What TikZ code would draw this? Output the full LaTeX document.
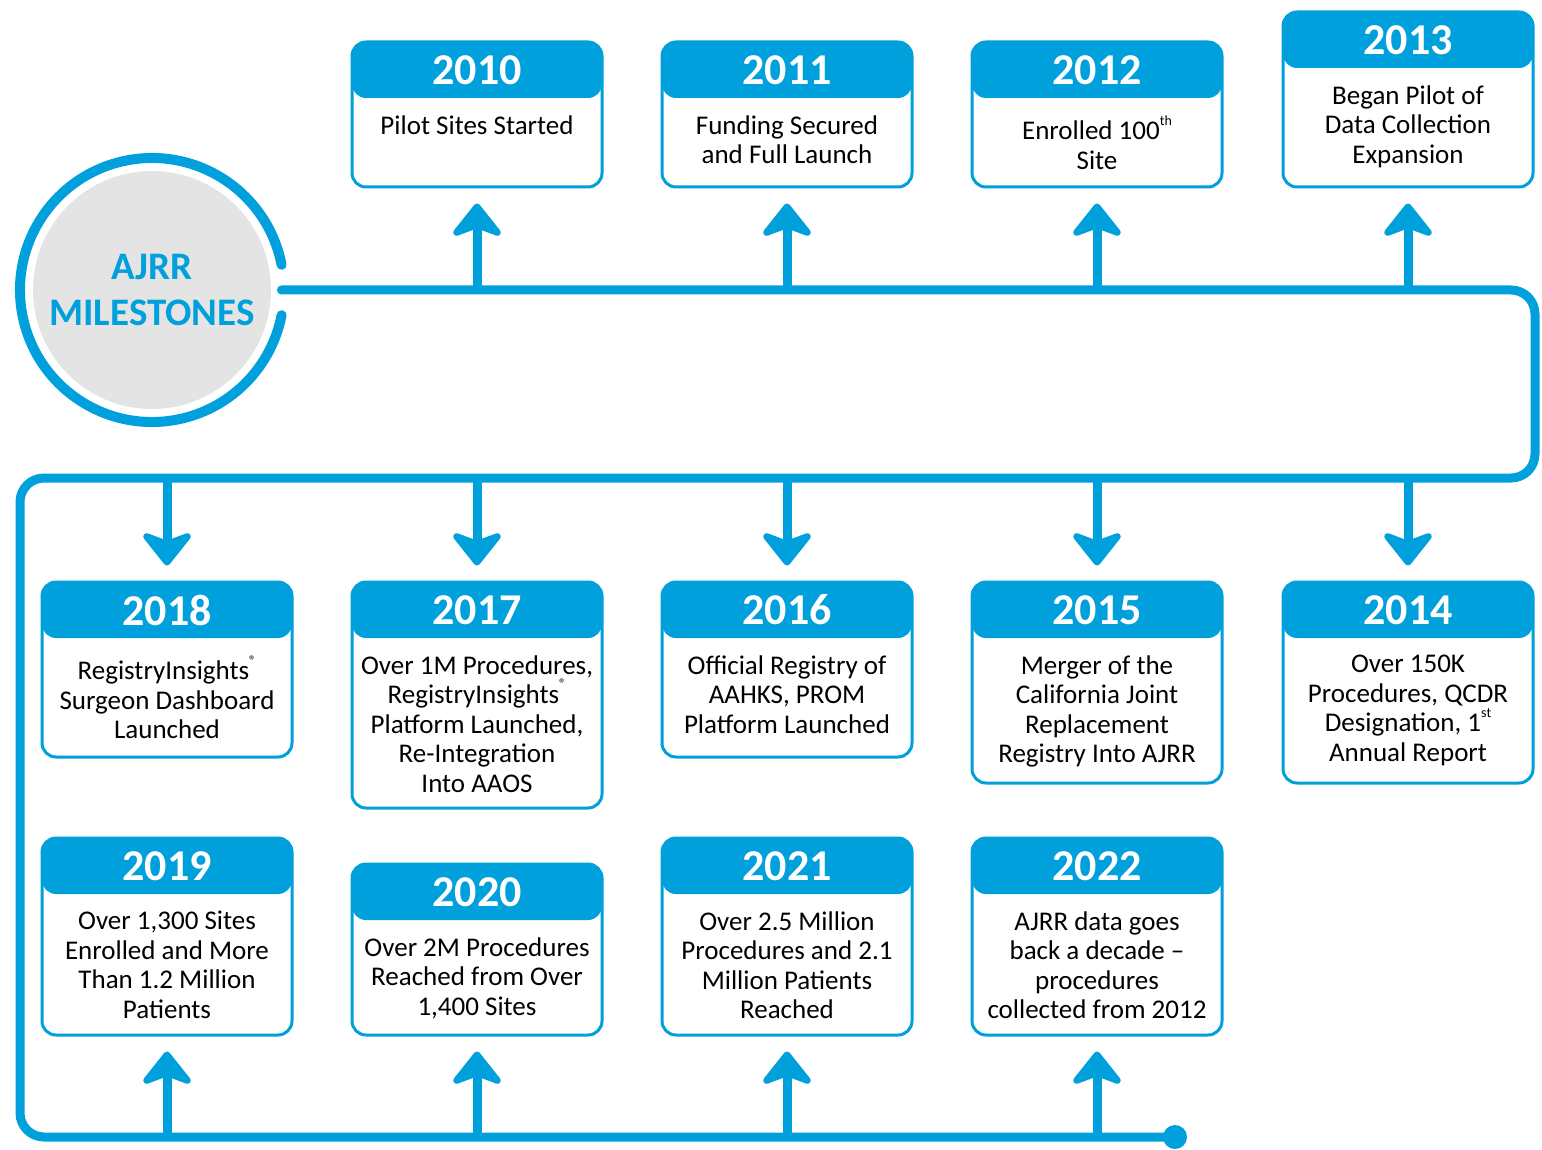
\documentclass[tikz,border=0pt]{standalone}
\usepackage{fontspec}
\setmainfont{Carlito}
\usetikzlibrary{arrows.meta,fit}
\definecolor{ajrrblue}{RGB}{0,160,220}
\definecolor{hubgray}{RGB}{228,228,228}
\tikzset{
  timeline/.style = {draw=ajrrblue, line width=4.5pt, line cap=round, rounded corners=12pt},
  mbox/.style = {
    draw=ajrrblue, line width=1.5pt, fill=white, rounded corners=7pt, inner sep=0pt,
    path picture={\fill[ajrrblue] (path picture bounding box.north west)
      rectangle ([yshift=-28pt]path picture bounding box.north east);}
  },
  yeartext/.style = {text=white, inner sep=0pt, font=\fontsize{22}{22}\selectfont\bfseries},
  bodytext/.style = {align=center, inner sep=0pt, font=\fontsize{13.5}{14.75}\selectfont},
  branch/.style = {draw=ajrrblue, line width=4.5pt,
    -{Stealth[length=19pt,width=30pt,inset=5.5pt,round]}, shorten >=7.5pt}
}
% name, x, top, bottom, year, text
\newcommand{\milestone}[6]{%
  \node[mbox, fit={(#2-125,#3) (#2+125,#4)}] (#1) {};
  \node[yeartext] (#1-year) at (#2,#3+28) {#5};
  \node[bodytext, anchor=north] (#1-text) at (#2,#3+73) {#6};
}
\newcommand{\upmark}[1]{\raisebox{0.55em}{\fontsize{7}{7}\selectfont #1}}

\begin{document}
\begin{tikzpicture}[x=0.5pt,y=-0.5pt]
  \useasboundingbox (0,0) rectangle (1542,1150);
  % hub
  \node[circle, fill=hubgray, minimum size=119pt, inner sep=0pt, align=center,
    text=ajrrblue, font=\fontsize{19.5}{23}\selectfont\bfseries] (hub) at (152,290) {AJRR\\MILESTONES};
  \draw[ajrrblue, line width=5pt, line cap=round]
    (hub.center) ++(11:66pt) arc[start angle=11, end angle=349, radius=66pt];
  % timeline
  \coordinate (start) at ([xshift=5pt]hub.east);
  \coordinate (turn) at (1535,478);
  \node[circle, fill=ajrrblue, minimum size=12pt, inner sep=0pt] (end) at (1175,1137) {};
  \draw[timeline] (start) -- (1535,290) -- (turn) -- (20,478) -- (20,1137) -- (end.center);
  % first row
  \milestone{m2010}{477}{42}{187}{2010}{Pilot Sites Started}
  \milestone{m2011}{787}{42}{187}{2011}{Funding Secured\\and Full Launch}
  \milestone{m2012}{1097}{42}{187}{2012}{Enrolled 100\upmark{th}\\Site}
  \milestone{m2013}{1408}{12}{187}{2013}{Began Pilot of\\Data Collection\\Expansion}
  % second row
  \milestone{m2018}{167}{582}{757}{2018}{RegistryInsights\upmark{®}\\Surgeon Dashboard\\Launched}
  \milestone{m2017}{477}{582}{808}{2017}{Over 1M Procedures,\\RegistryInsights\upmark{®}\\Platform Launched,\\Re-Integration\\Into AAOS}
  \milestone{m2016}{787}{582}{757}{2016}{Official Registry of\\AAHKS, PROM\\Platform Launched}
  \milestone{m2015}{1097}{582}{783}{2015}{Merger of the\\California Joint\\Replacement\\Registry Into AJRR}
  \milestone{m2014}{1408}{582}{783}{2014}{Over 150K\\Procedures, QCDR\\Designation, 1\upmark{st}\\Annual Report}
  % third row
  \milestone{m2019}{167}{838}{1035}{2019}{Over 1,300 Sites\\Enrolled and More\\Than 1.2 Million\\Patients}
  \milestone{m2020}{477}{864}{1035}{2020}{Over 2M Procedures\\Reached from Over\\1,400 Sites}
  \milestone{m2021}{787}{838}{1035}{2021}{Over 2.5 Million\\Procedures and 2.1\\Million Patients\\Reached}
  \milestone{m2022}{1097}{838}{1035}{2022}{AJRR data goes\\back a decade –\\procedures\\collected from 2012}
  % arrows
  \foreach \m in {m2010,m2011,m2012,m2013}
    \draw[branch] (\m.south |- start) -- (\m.south);
  \foreach \m in {m2018,m2017,m2016,m2015,m2014}
    \draw[branch] (\m.north |- turn) -- (\m.north);
  \foreach \m in {m2019,m2020,m2021,m2022}
    \draw[branch] (\m.south |- end) -- (\m.south);
\end{tikzpicture}
\end{document}
